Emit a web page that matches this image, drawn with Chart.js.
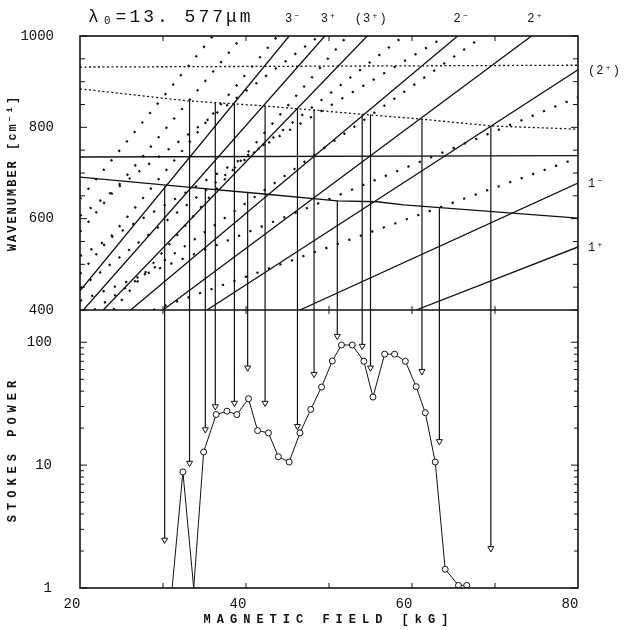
<!DOCTYPE html>
<html>
<head>
<meta charset="utf-8">
<title>Stokes power vs magnetic field</title>
<script src="https://cdn.jsdelivr.net/npm/chart.js@4.4.1/dist/chart.umd.min.js"></script>
<style>
    html, body { margin: 0; padding: 0; background: #fff; }
    #chart { display: block; }
</style>
</head>
<body>
<canvas id="chart" width="625" height="630"></canvas>
<script>
// Rangos y marcas de los ejes
const fieldRange = [20, 80];
const waveRange = [400, 1000];
const powerRange = [1, 183];
const fieldTicks = [20, 40, 60, 80];
const fieldMinorTicks = [30, 40, 50, 60, 70];
const waveTicks = [400, 600, 800, 1000];
const waveMinorTicks = [450, 500, 550, 650, 700, 750, 850, 900, 950];
const powerTicks = [1, 10, 100];
const powerMinorTicks = [2, 3, 4, 5, 6, 7, 8, 9, 20, 30, 40, 50, 60, 70, 80, 90];

// Abanico: transiciones (campo kG -> numero de onda cm-1), inicio y fin
const fanLabels = ['3⁻', '3⁺', '(3⁺)', '2⁻', '2⁺', '(2⁺)', '1⁻', '1⁺'];
const fanField = [[20, 45.2], [20.4, 49.5], [22.8, 54.6], [26.1, 65.5], [30.0, 74.4], [35.3, 80], [46.5, 80], [60.5, 80]];
const fanWave = [[442, 1000], [400, 1000], [400, 1000], [400, 1000], [400, 1000], [400, 926], [400, 678], [400, 538]];

// Lineas punteadas del abanico
const dotField = [[20, 36.0], [20, 48.8], [20, 39.6], [20, 64.1], [20, 43.8], [20, 59.0], [21.7, 68.6], [24.0, 52.2], [20, 80], [28.8, 80]];
const dotWave = [[643, 1000], [606, 1000], [571, 1000], [518, 1000], [479, 1000], [448, 1000], [400, 1000], [400, 1000], [420, 866], [400, 733]];

// Niveles casi horizontales
const slopeField = [20, 33.0, 42.2, 51.0, 55.8, 59.0, 80];
const slopeWave = [691, 669, 654, 639, 637, 630, 601];
const slopeDotField = [20, 33.0, 42.2, 53.7, 61.1, 69.6, 80];
const slopeDotWave = [884, 858, 847, 829, 818, 803, 796];
const flatField = [20, 80];
const flatWave = [735, 738];
const flatDotWave = [932, 936];

// Flechas: campo, inicio en el abanico, punta en la potencia
const arrowField = [30.2, 33.2, 35.1, 36.3, 38.6, 40.2, 42.3, 46.2, 48.2, 51.0, 54.0, 55.0, 61.2, 63.3, 69.5];
const arrowWave = [671, 858, 666, 855, 852, 658, 847, 842, 839, 639, 829, 828, 818, 623, 803];
const arrowPower = [2.46, 10.4, 19.5, 30, 32, 62, 32, 20.7, 55, 112, 93, 62, 58, 15.6, 2.1];

// Potencia Stokes medida
const stokesField = [31.1, 32.4, 33.7, 34.9, 36.4, 37.7, 38.9, 40.3, 41.4, 42.7, 43.9, 45.2, 46.5, 47.8, 49.1, 50.4, 51.5, 52.8, 54.2, 55.3, 56.7, 57.9, 59.2, 60.5, 61.6, 62.8, 64.0, 65.6, 66.6];
const stokesPower = [1, 8.8, 1, 12.8, 25.8, 27.5, 25.8, 34.7, 19.1, 18.3, 11.7, 10.6, 18.3, 28.4, 43.2, 70.4, 95, 95, 70, 35.8, 80, 80, 70, 43.5, 26.7, 10.6, 1.42, 1.05, 1.05];
const stokesMarked = [false, true, false, true, true, true, true, true, true, true, true, true, true, true, true, true, true, true, true, true, true, true, true, true, true, true, true, true, true];

const INK = '#111';
const FONT = "'Liberation Mono', 'DejaVu Sans Mono', monospace";

// Convierte pares inicio/fin en segmentos separados por huecos
function segments(fields, waves) {
    const pts = [];
    fields.forEach((f, i) => {
        pts.push({ x: f[0], y: waves[i][0] }, { x: f[1], y: waves[i][1] }, { x: f[1], y: null });
    });
    return pts;
}

function polyline(xs, ys) {
    return xs.map((x, i) => ({ x: x, y: ys[i] }));
}

const topShafts = [];
const bottomShafts = [];
arrowField.forEach((f, i) => {
    topShafts.push({ x: f, y: arrowWave[i] }, { x: f, y: waveRange[0] }, { x: f, y: null });
    bottomShafts.push({ x: f, y: powerRange[1] }, { x: f, y: arrowPower[i] }, { x: f, y: null });
});

// Marco, marcas hacia dentro y textos
const framePlugin = {
    id: 'framePlugin',
    afterDatasetsDraw(chart) {
        const { ctx, chartArea: a, scales } = chart;
        const x = scales.x, yTop = scales.yTop, yBot = scales.yBot;
        const mid = yTop.bottom;
        const line = (x1, y1, x2, y2) => {
            ctx.beginPath();
            ctx.moveTo(x1, y1);
            ctx.lineTo(x2, y2);
            ctx.stroke();
        };
        ctx.save();
        ctx.strokeStyle = INK;
        ctx.lineWidth = 1.6;
        ctx.strokeRect(a.left, a.top, a.right - a.left, a.bottom - a.top);
        line(a.left, mid, a.right, mid);

        ctx.lineWidth = 1;
        waveTicks.concat(waveMinorTicks).forEach(v => {
            const y = yTop.getPixelForValue(v);
            const len = waveTicks.includes(v) ? 7 : 5;
            line(a.left, y, a.left + len, y);
            line(a.right, y, a.right - len, y);
        });
        powerTicks.concat(powerMinorTicks).forEach(v => {
            const y = yBot.getPixelForValue(v);
            const len = powerTicks.includes(v) ? 7 : 4;
            line(a.left, y, a.left + len, y);
            line(a.right, y, a.right - len, y);
        });
        fieldMinorTicks.forEach(v => {
            const px = x.getPixelForValue(v);
            line(px, a.top, px, a.top + 5);
            line(px, mid - 4, px, mid + 4);
            line(px, a.bottom, px, a.bottom - 5);
        });

        ctx.fillStyle = INK;
        ctx.textBaseline = 'alphabetic';

        // Titulo
        ctx.font = '18px ' + FONT;
        ctx.letterSpacing = '3px';
        ctx.textAlign = 'left';
        ctx.fillText('λ₀=13. 577μm', a.left + 8, a.top - 14);

        // Etiquetas del abanico
        ctx.font = '12px ' + FONT;
        ctx.letterSpacing = '1px';
        fanLabels.forEach((lab, i) => {
            const endB = fanField[i][1];
            const endW = fanWave[i][1];
            if (endW >= waveRange[1]) {
                ctx.textAlign = 'center';
                ctx.fillText(lab, x.getPixelForValue(endB) + 4, a.top - 14);
            } else {
                ctx.textAlign = 'left';
                ctx.fillText(lab, a.right + 10, yTop.getPixelForValue(endW) + 4);
            }
        });

        // Titulos de los ejes
        ctx.font = 'bold 12px ' + FONT;
        ctx.textAlign = 'center';
        ctx.letterSpacing = '2px';
        ctx.save();
        ctx.translate(16, (yTop.top + yTop.bottom) / 2);
        ctx.rotate(-Math.PI / 2);
        ctx.fillText('WAVENUMBER [cm⁻¹]', 0, 0);
        ctx.restore();
        ctx.letterSpacing = '5px';
        ctx.save();
        ctx.translate(16, (yBot.top + yBot.bottom) / 2);
        ctx.rotate(-Math.PI / 2);
        ctx.fillText('STOKES POWER', 0, 0);
        ctx.restore();
        ctx.letterSpacing = '6px';
        ctx.fillText('MAGNETIC FIELD [kG]', (a.left + a.right) / 2, a.bottom + 35);
        ctx.restore();
    }
};

const tickFont = { family: FONT, size: 14 };

new Chart(document.getElementById('chart'), {
    type: 'line',
    data: {
        datasets: [
            {
                // Potencia medida (encima de todo)
                yAxisID: 'yBot',
                data: polyline(stokesField, stokesPower),
                borderColor: INK,
                borderWidth: 1,
                pointStyle: 'circle',
                pointRadius: stokesMarked.map(m => m ? 3 : 0),
                pointBackgroundColor: '#fff',
                pointBorderColor: INK,
                pointBorderWidth: 1
            },
            {
                yAxisID: 'yBot',
                data: arrowField.map((f, i) => ({ x: f, y: arrowPower[i] })),
                showLine: false,
                pointStyle: 'triangle',
                rotation: 180,
                pointRadius: 3.5,
                pointBackgroundColor: '#fff',
                pointBorderColor: INK,
                pointBorderWidth: 1
            },
            {
                yAxisID: 'yBot',
                data: bottomShafts,
                borderColor: INK,
                borderWidth: 1.2,
                pointRadius: 0
            },
            {
                yAxisID: 'yTop',
                data: topShafts,
                borderColor: INK,
                borderWidth: 1.2,
                pointRadius: 0
            },
            {
                yAxisID: 'yTop',
                data: segments(fanField, fanWave),
                borderColor: INK,
                borderWidth: 1.3,
                pointRadius: 0
            },
            {
                yAxisID: 'yTop',
                data: segments(dotField, dotWave),
                borderColor: INK,
                borderWidth: 2.2,
                borderDash: [2.2, 10],
                pointRadius: 0
            },
            {
                yAxisID: 'yTop',
                data: polyline(slopeField, slopeWave),
                borderColor: INK,
                borderWidth: 1.3,
                pointRadius: 0
            },
            {
                yAxisID: 'yTop',
                data: polyline(flatField, flatWave),
                borderColor: INK,
                borderWidth: 1.3,
                pointRadius: 0
            },
            {
                yAxisID: 'yTop',
                data: polyline(slopeDotField, slopeDotWave),
                borderColor: INK,
                borderWidth: 1.3,
                borderDash: [2, 2.5],
                pointRadius: 0
            },
            {
                yAxisID: 'yTop',
                data: polyline(flatField, flatDotWave),
                borderColor: INK,
                borderWidth: 1.3,
                borderDash: [2, 2.5],
                pointRadius: 0
            }
        ]
    },
    options: {
        responsive: false,
        animation: false,
        events: [],
        layout: { padding: { top: 36, right: 47, left: 0, bottom: 0 } },
        plugins: { legend: { display: false }, tooltip: { enabled: false } },
        scales: {
            x: {
                type: 'linear',
                min: fieldRange[0],
                max: fieldRange[1],
                afterBuildTicks: s => { s.ticks = fieldTicks.map(v => ({ value: v })); },
                afterFit: s => { s.height = 42; },
                grid: { display: false },
                border: { display: false },
                ticks: { font: tickFont, color: INK, padding: 0, labelOffset: -8, maxRotation: 0, callback: v => String(v) }
            },
            yBot: {
                type: 'logarithmic',
                position: 'left',
                stack: 'panels',
                stackWeight: 278,
                min: powerRange[0],
                max: powerRange[1],
                afterBuildTicks: s => { s.ticks = powerTicks.map(v => ({ value: v })); },
                afterFit: s => { s.width = 80; },
                grid: { display: false },
                border: { display: false },
                ticks: { font: tickFont, color: INK, padding: 20, callback: v => String(v) }
            },
            yTop: {
                type: 'linear',
                position: 'left',
                stack: 'panels',
                stackWeight: 274,
                min: waveRange[0],
                max: waveRange[1],
                afterBuildTicks: s => { s.ticks = waveTicks.map(v => ({ value: v })); },
                afterFit: s => { s.width = 80; },
                grid: { display: false },
                border: { display: false },
                ticks: { font: tickFont, color: INK, padding: 18, callback: v => String(v) }
            }
        }
    },
    plugins: [framePlugin]
});
</script>
</body>
</html>
